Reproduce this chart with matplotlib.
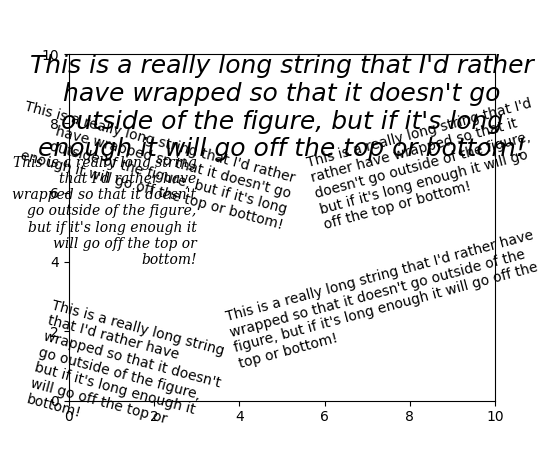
import matplotlib.pyplot as plt

t = ("This is a really long string that I'd rather have wrapped so that it "
     "doesn't go outside of the figure, but if it's long enough it will go "
     "off the top or bottom!")

# anchor points of the text blocks (data coords)
text_x = [4, 6, 5, 5, 3, -1]
text_y = [1, 5, 5, 10, 4, 0]

fig = plt.figure(figsize=(5.5, 4.5), dpi=100)
plt.axis((0, 10, 0, 10))

plt.text(text_x[0], text_y[0], t, ha='left', rotation=15, wrap=True)
plt.text(text_x[1], text_y[1], t, ha='left', rotation=15, wrap=True)
plt.text(text_x[2], text_y[2], t, ha='right', rotation=-15, wrap=True)
plt.text(text_x[3], text_y[3], t, fontsize=18, style='oblique', ha='center',
         va='top', wrap=True)
plt.text(text_x[4], text_y[4], t, family='serif', style='italic', ha='right',
         wrap=True)
plt.text(text_x[5], text_y[5], t, ha='left', rotation=-15, wrap=True)

plt.savefig('out.png')
